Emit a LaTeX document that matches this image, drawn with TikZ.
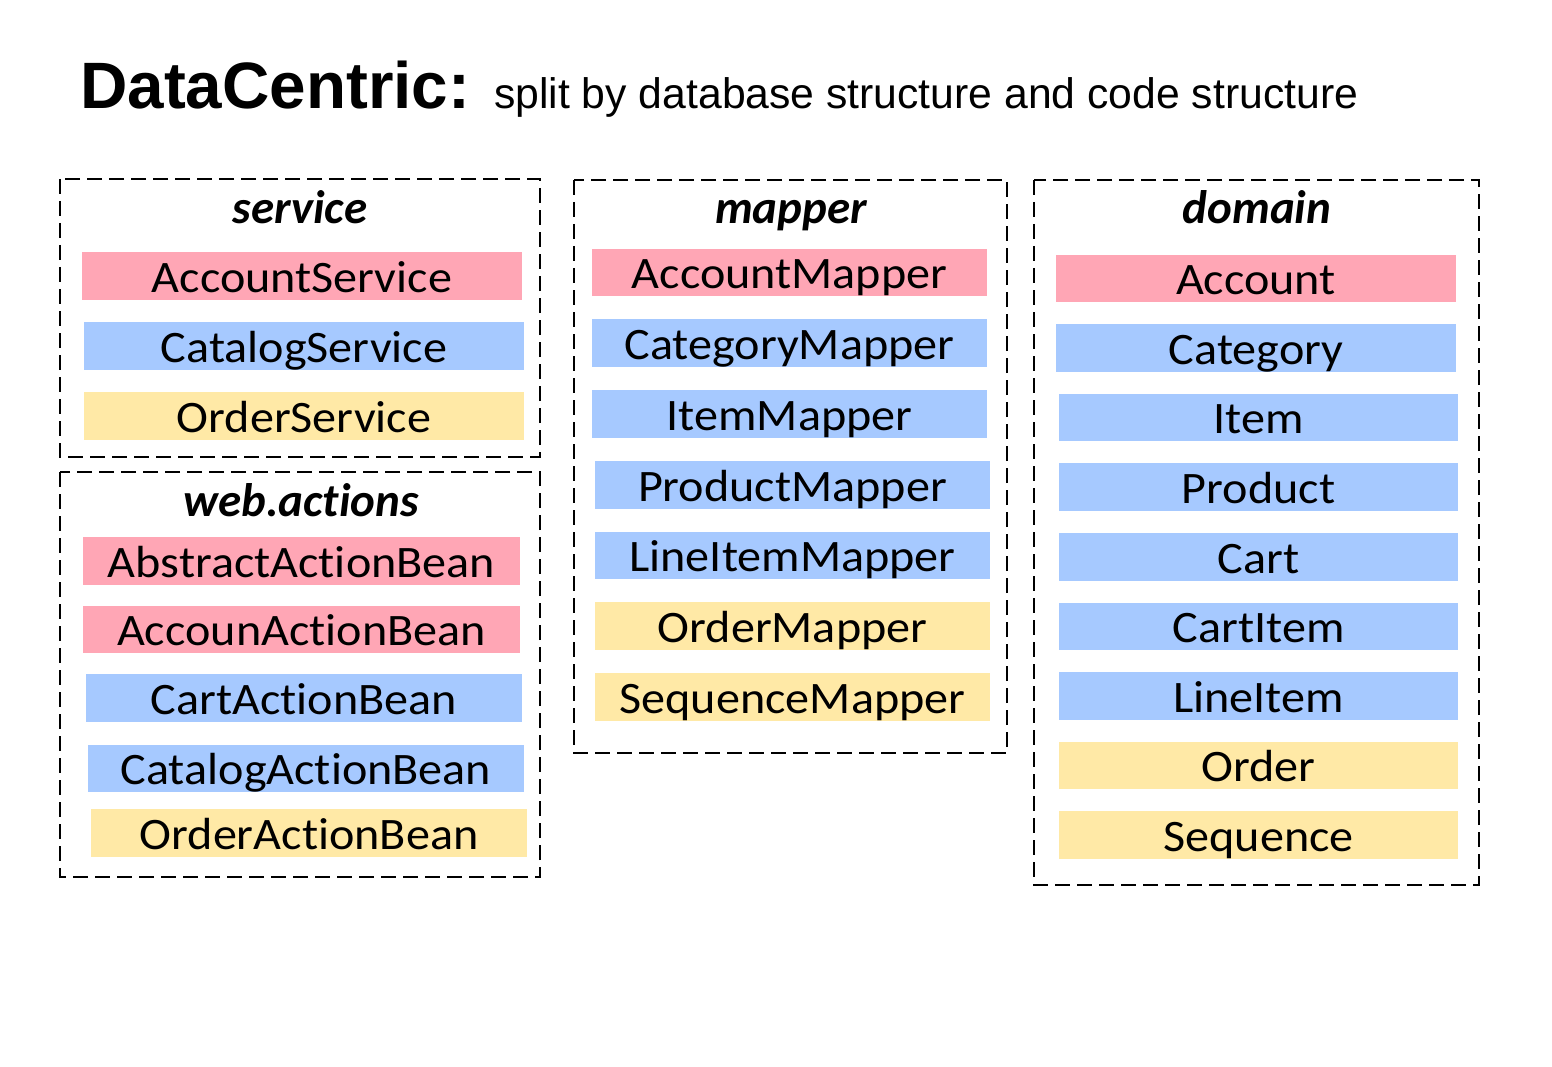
\documentclass[tikz,border=0pt]{standalone}
\usepackage{fontspec}
\setmainfont[Ligatures=NoCommon]{Carlito}
\newfontfamily\itemfont[FakeStretch=1.07,Ligatures=NoCommon]{Carlito}
\newfontfamily\arialfont{Liberation Sans}
\definecolor{pinkc}{RGB}{255,166,181}
\definecolor{bluec}{RGB}{166,201,255}
\definecolor{yellowc}{RGB}{255,233,166}
\begin{document}
\begin{tikzpicture}[x=1pt,y=-1pt,
  bar/.style={inner sep=0pt, minimum height=47.5pt, text height=36pt, text depth=4pt, font=\itemfont\fontsize{45}{54}\selectfont},
  pinkbar/.style={bar, fill=pinkc},
  bluebar/.style={bar, fill=bluec},
  yellowbar/.style={bar, fill=yellowc},
  head/.style={inner sep=0pt, anchor=base, font=\fontsize{47}{56}\selectfont\bfseries\itshape},
  pkg/.style={draw=black, line width=2.8pt, dash pattern=on 15pt off 7pt}]
\useasboundingbox[fill=white] (0,0) rectangle (1552,1067);

% title
\node[anchor=base west, inner sep=0pt, font=\arialfont\fontsize{65.6}{70}\selectfont\bfseries] (title) at (80,109) {DataCentric:};
\node[anchor=base west, inner sep=0pt, font=\arialfont\fontsize{42.7}{50}\selectfont] (subtitle) at (494,109) {split by database structure and code structure};

% service package
\draw[pkg] (60,179) rectangle (540,457);
\node[head] (hservice) at (300,224) {service};
\begin{scope}[every node/.append style={font=\itemfont\fontsize{44.5}{54}\selectfont}]
\node[pinkbar, minimum width=440pt] (s1) at (302,276) {AccountService};
\node[bluebar, minimum width=440pt] (s2) at (304,346) {CatalogService};
\node[yellowbar, minimum width=440pt] (s3) at (304,416) {OrderService};
\end{scope}

% web.actions package
\draw[pkg] (60,472) rectangle (540,877);
\node[head] (hweb) at (301,516) {web.actions};
\begin{scope}[every node/.append style={font=\itemfont\fontsize{47}{56}\selectfont}]
\node[pinkbar, minimum width=437pt] (w1) at (301.5,561) {AbstractActionBean};
\node[pinkbar, minimum width=437pt] (w2) at (301.5,629.5) {AccounActionBean};
\node[bluebar, minimum width=436pt] (w3) at (304,698) {CartActionBean};
\node[bluebar, minimum width=436pt] (w4) at (306,768.5) {CatalogActionBean};
\node[yellowbar, minimum width=436pt] (w5) at (309,833) {OrderActionBean};
\end{scope}

% mapper package
\draw[pkg] (574,180) rectangle (1007,753);
\node[head] (hmapper) at (791,224) {mapper};
\node[pinkbar, minimum width=395pt] (m1) at (789.5,272.5) {AccountMapper};
\node[bluebar, minimum width=395pt] (m2) at (789.5,343) {CategoryMapper};
\node[bluebar, minimum width=395pt] (m3) at (789.5,414) {ItemMapper};
\node[bluebar, minimum width=395pt] (m4) at (792.5,485) {ProductMapper};
\node[bluebar, minimum width=395pt] (m5) at (792.5,555.5) {LineItemMapper};
\node[yellowbar, minimum width=395pt] (m6) at (792.5,626) {OrderMapper};
\node[yellowbar, minimum width=395pt] (m7) at (792.5,697) {SequenceMapper};

% domain package
\draw[pkg] (1034,180) rectangle (1479,885);
\node[head] (hdomain) at (1257,224) {domain};
\begin{scope}[every node/.append style={font=\itemfont\fontsize{47}{56}\selectfont}]
\node[pinkbar, minimum width=400pt] (d1) at (1256,278.5) {Account};
\node[bluebar, minimum width=400pt] (d2) at (1256,348) {Category};
\node[bluebar, minimum width=399pt] (d3) at (1258.5,417.5) {Item};
\node[bluebar, minimum width=399pt] (d4) at (1258.5,487) {Product};
\node[bluebar, minimum width=399pt] (d5) at (1258.5,557) {Cart};
\node[bluebar, minimum width=399pt] (d6) at (1258.5,626.5) {CartItem};
\node[bluebar, minimum width=399pt] (d7) at (1258.5,696) {LineItem};
\node[yellowbar, minimum width=399pt] (d8) at (1258.5,765.5) {Order};
\node[yellowbar, minimum width=399pt] (d9) at (1258.5,835) {Sequence};
\end{scope}
\end{tikzpicture}
\end{document}
